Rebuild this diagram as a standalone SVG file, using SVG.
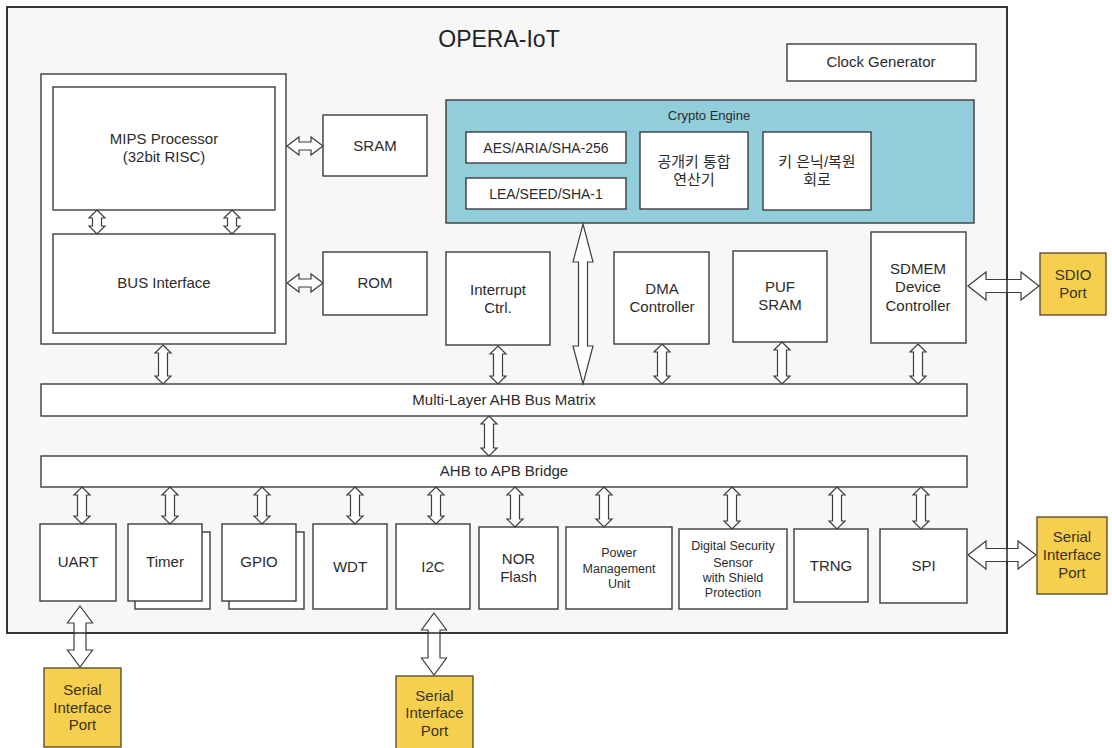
<svg xmlns="http://www.w3.org/2000/svg" width="1112" height="748" viewBox="0 0 1112 748">
<style>
.frame{fill:#f7f7f7;stroke:#2a2a2a;stroke-width:1.5}
.frameline{fill:none;stroke:#2a2a2a;stroke-width:1.5}
.box{fill:#ffffff;stroke:#3c3c3c;stroke-width:1.4}
.crypto{fill:#92cddc;stroke:#3c3c3c;stroke-width:1.4}
.port{fill:#f6cf4e;stroke:#5a5030;stroke-width:1.4}
.arr{fill:#ffffff;stroke:#3c3c3c;stroke-width:1.2;stroke-linejoin:miter}
text{font-family:"Liberation Sans",Arial,sans-serif;fill:#2b2b2b;text-anchor:middle}
.t15{font-size:15px}
.t14{font-size:14px}
.t13{font-size:13px}
.t12{font-size:12.5px}
.ko{font-family:"Liberation Sans","Noto Sans CJK KR",sans-serif;font-size:15px}
.pt{font-size:15px;fill:#3a3220}
.title{font-size:23px;fill:#222}
</style>

<g id="opera-iot">
<rect class="frame" x="7" y="7" width="1000" height="626"/>
<text class="title" x="499" y="47">OPERA-IoT</text>
</g>

<g id="clock-generator">
<rect class="box" x="787" y="44" width="189" height="37"/>
<text class="t15" x="881" y="67">Clock Generator</text>
</g>

<g id="cpu-subsystem">
<rect class="box" x="41" y="74" width="245" height="270"/>
</g>
<g id="mips-processor">
<rect class="box" x="53" y="87" width="222" height="123"/>
<text class="t15" x="164" y="144">MIPS Processor</text>
<text class="t15" x="164" y="162">(32bit RISC)</text>
</g>
<g id="bus-interface">
<rect class="box" x="53" y="234" width="222" height="99"/>
<text class="t15" x="164" y="288">BUS Interface</text>
</g>
<g id="sram">
<rect class="box" x="323" y="115" width="104" height="61"/>
<text class="t15" x="375" y="151">SRAM</text>
</g>
<g id="rom">
<rect class="box" x="323" y="252" width="104" height="63"/>
<text class="t15" x="375" y="288">ROM</text>
</g>

<g id="crypto-engine">
<rect class="crypto" x="446" y="100" width="528" height="123"/>
<text class="t13" x="709" y="120">Crypto Engine</text>
</g>
<g id="aes-aria-sha256">
<rect class="box" x="466" y="132" width="160" height="31"/>
<text class="t14" x="546" y="153">AES/ARIA/SHA-256</text>
</g>
<g id="lea-seed-sha1">
<rect class="box" x="466" y="178" width="160" height="31"/>
<text class="t14" x="546" y="199">LEA/SEED/SHA-1</text>
</g>
<g id="pubkey-unit">
<rect class="box" x="640" y="132" width="108" height="77"/>
<text class="ko" x="694" y="167">공개키 통합</text>
<text class="ko" x="694" y="185">연산기</text>
</g>
<g id="key-hiding">
<rect class="box" x="763" y="132" width="108" height="78"/>
<text class="ko" x="817" y="167">키 은닉/복원</text>
<text class="ko" x="817" y="185">회로</text>
</g>

<g id="interrupt-ctrl">
<rect class="box" x="446" y="252" width="104" height="93"/>
<text class="t15" x="498" y="295">Interrupt</text>
<text class="t15" x="498" y="313">Ctrl.</text>
</g>
<g id="dma-controller">
<rect class="box" x="614" y="252" width="95" height="92"/>
<text class="t15" x="662" y="294">DMA</text>
<text class="t15" x="662" y="312">Controller</text>
</g>
<g id="puf-sram">
<rect class="box" x="733" y="251" width="94" height="91"/>
<text class="t15" x="780" y="292">PUF</text>
<text class="t15" x="780" y="310">SRAM</text>
</g>
<g id="sdmem-controller">
<rect class="box" x="871" y="232" width="95" height="111"/>
<text class="t15" x="918" y="274">SDMEM</text>
<text class="t15" x="918" y="292">Device</text>
<text class="t15" x="918" y="311">Controller</text>
</g>
<g id="sdio-port">
<rect class="port" x="1040" y="253" width="66" height="62"/>
<text class="pt" x="1073" y="280">SDIO</text>
<text class="pt" x="1073" y="298">Port</text>
</g>

<g id="ahb-bus-matrix">
<rect class="box" x="41" y="384" width="926" height="32"/>
<text class="t15" x="504" y="405">Multi-Layer AHB Bus Matrix</text>
</g>
<g id="ahb-apb-bridge">
<rect class="box" x="41" y="456" width="926" height="31"/>
<text class="t15" x="504" y="476">AHB to APB Bridge</text>
</g>

<g id="uart">
<rect class="box" x="40" y="524" width="76" height="77"/>
<text class="t15" x="78" y="567">UART</text>
</g>
<g id="timer">
<rect class="box" x="135" y="532" width="75" height="77"/>
<rect class="box" x="128" y="524" width="74" height="77"/>
<text class="t15" x="165" y="567">Timer</text>
</g>
<g id="gpio">
<rect class="box" x="229" y="532" width="75" height="77"/>
<rect class="box" x="222" y="524" width="74" height="77"/>
<text class="t15" x="259" y="567">GPIO</text>
</g>
<g id="wdt">
<rect class="box" x="313" y="524" width="74" height="85"/>
<text class="t15" x="350" y="572">WDT</text>
</g>
<g id="i2c">
<rect class="box" x="396" y="524" width="74" height="85"/>
<text class="t15" x="433" y="572">I2C</text>
</g>
<g id="nor-flash">
<rect class="box" x="479" y="527" width="79" height="82"/>
<text class="t15" x="518.5" y="564">NOR</text>
<text class="t15" x="518.5" y="582">Flash</text>
</g>
<g id="power-management">
<rect class="box" x="566" y="527" width="106" height="82"/>
<text class="t12" x="619" y="556.5">Power</text>
<text class="t12" x="619" y="572.5">Management</text>
<text class="t12" x="619" y="587.5">Unit</text>
</g>
<g id="digital-security-sensor">
<rect class="box" x="679" y="529" width="108" height="80"/>
<text class="t12" x="733" y="549.5">Digital Security</text>
<text class="t12" x="733" y="566.5">Sensor</text>
<text class="t12" x="733" y="581.5">with Shield</text>
<text class="t12" x="733" y="596.5">Protection</text>
</g>
<g id="trng">
<rect class="box" x="794" y="529" width="74" height="73"/>
<text class="t15" x="831" y="571">TRNG</text>
</g>
<g id="spi">
<rect class="box" x="880" y="529" width="87" height="74"/>
<text class="t15" x="923.5" y="571">SPI</text>
</g>

<g id="serial-port-right">
<rect class="port" x="1037" y="517" width="70" height="77"/>
<text class="pt" x="1072" y="542">Serial</text>
<text class="pt" x="1072" y="560">Interface</text>
<text class="pt" x="1072" y="578">Port</text>
</g>
<g id="serial-port-uart">
<rect class="port" x="44" y="668" width="77" height="79"/>
<text class="pt" x="82.5" y="695">Serial</text>
<text class="pt" x="82.5" y="713">Interface</text>
<text class="pt" x="82.5" y="730">Port</text>
</g>
<g id="serial-port-i2c">
<rect class="port" x="396" y="676" width="77" height="76"/>
<text class="pt" x="434.5" y="701">Serial</text>
<text class="pt" x="434.5" y="718">Interface</text>
<text class="pt" x="434.5" y="736">Port</text>
</g>

<g id="connectors">
<polygon class="arr" points="97,210 105,218 101.5,218 101.5,226 105,226 97,234 89,226 92.5,226 92.5,218 89,218"/>
<polygon class="arr" points="232,210 240,218 236.5,218 236.5,226 240,226 232,234 224,226 227.5,226 227.5,218 224,218"/>
<polygon class="arr" points="287,146 299,137 299,142 311,142 311,137 323,146 311,155 311,150 299,150 299,155"/>
<polygon class="arr" points="287,283 299,274 299,279 311,279 311,274 323,283 311,292 311,287 299,287 299,292"/>
<polygon class="arr" points="163,345 171,353 167.5,353 167.5,376 171,376 163,384 155,376 158.5,376 158.5,353 155,353"/>
<polygon class="arr" points="498,346 506,354 502.5,354 502.5,376 506,376 498,384 490,376 493.5,376 493.5,354 490,354"/>
<polygon class="arr" points="583,224 593,262 587.5,262 587.5,346 593,346 583,384 573,346 578.5,346 578.5,262 573,262"/>
<polygon class="arr" points="662,344 670,352 666.5,352 666.5,376 670,376 662,384 654,376 657.5,376 657.5,352 654,352"/>
<polygon class="arr" points="782,342 790,350 786.5,350 786.5,376 790,376 782,384 774,376 777.5,376 777.5,350 774,350"/>
<polygon class="arr" points="918,344 926,352 922.5,352 922.5,376 926,376 918,384 910,376 913.5,376 913.5,352 910,352"/>
<polygon class="arr" points="968,286 986,272 986,279.5 1021,279.5 1021,272 1039,286 1021,300 1021,292.5 986,292.5 986,300"/>
<polygon class="arr" points="489,416 497,424 493.5,424 493.5,448 497,448 489,456 481,448 484.5,448 484.5,424 481,424"/>
<polygon class="arr" points="82,487 90,495 86.5,495 86.5,516 90,516 82,524 74,516 77.5,516 77.5,495 74,495"/>
<polygon class="arr" points="170,487 178,495 174.5,495 174.5,516 178,516 170,524 162,516 165.5,516 165.5,495 162,495"/>
<polygon class="arr" points="262,487 270,495 266.5,495 266.5,516 270,516 262,524 254,516 257.5,516 257.5,495 254,495"/>
<polygon class="arr" points="355,487 363,495 359.5,495 359.5,516 363,516 355,524 347,516 350.5,516 350.5,495 347,495"/>
<polygon class="arr" points="436,487 444,495 440.5,495 440.5,516 444,516 436,524 428,516 431.5,516 431.5,495 428,495"/>
<polygon class="arr" points="515,487 523,495 519.5,495 519.5,519 523,519 515,527 507,519 510.5,519 510.5,495 507,495"/>
<polygon class="arr" points="604,487 612,495 608.5,495 608.5,519 612,519 604,527 596,519 599.5,519 599.5,495 596,495"/>
<polygon class="arr" points="732,487 740,495 736.5,495 736.5,521 740,521 732,529 724,521 727.5,521 727.5,495 724,495"/>
<polygon class="arr" points="837,487 845,495 841.5,495 841.5,521 845,521 837,529 829,521 832.5,521 832.5,495 829,495"/>
<polygon class="arr" points="921,487 929,495 925.5,495 925.5,521 929,521 921,529 913,521 916.5,521 916.5,495 913,495"/>
<polygon class="arr" points="968,555 986,541 986,548.5 1018,548.5 1018,541 1036,555 1018,569 1018,561.5 986,561.5 986,569"/>
<polygon class="arr" points="80,606 92.5,623 86,623 86,650 92.5,650 80,667 67.5,650 74,650 74,623 67.5,623"/>
<polygon class="arr" points="434,613 446.5,630 440,630 440,658 446.5,658 434,675 421.5,658 428,658 428,630 421.5,630"/>
<rect class="frameline" x="7" y="7" width="1000" height="626"/>
</g>
</svg>
